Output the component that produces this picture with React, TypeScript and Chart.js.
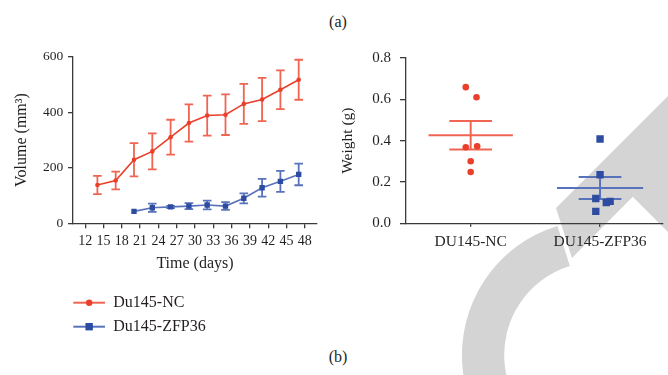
import React, { useEffect, useRef } from "react";
import { Chart, registerables } from "chart.js";

Chart.register(...registerables);

const FONT = "'Liberation Serif', 'Times New Roman', serif";
const TEXT = "#231f20";
const AXIS = "#3a3a3a";

// ---- (a) tumour volume ----
const tickDays = [12, 15, 18, 21, 24, 27, 30, 33, 36, 39, 42, 45, 48];
const ncDays = [14, 17, 20, 23, 26, 29, 32, 35, 38, 41, 44, 47];
const ncVolume = [138, 154, 229, 259, 310, 361, 388, 391, 430, 446, 481, 517];
const ncVolumeErr = [33, 32, 60, 65, 63, 67, 72, 73, 72, 78, 70, 72];
const zfpDays = [20, 23, 26, 29, 32, 35, 38, 41, 44, 47];
const zfpVolume = [43, 56, 59, 62, 66, 62, 90, 128, 151, 176];
const zfpVolumeErr = [0, 15, 4, 11, 16, 14, 18, 32, 38, 39];
const seriesNames = ["Du145-NC", "Du145-ZFP36"];

// ---- (b) tumour weight ----
const weightGroups = ["DU145-NC", "DU145-ZFP36"];
const ncWeight = [0.659, 0.61, 0.368, 0.373, 0.3, 0.248];
const ncJitter = [-0.038, 0.045, -0.038, 0.05, 0, 0];
const zfpWeight = [0.408, 0.235, 0.12, 0.1, 0.106, 0.058];
const zfpJitter = [0, 0, -0.033, 0.048, 0.078, -0.033];

const RED = "#ea3f2b";
const RED_LIGHT = "#ef6552";
const BLUE = "#2c4ba1";
const BLUE_LIGHT = "#5873bb";

const mean = (a: number[]) => a.reduce((s, v) => s + v, 0) / a.length;
const sem = (a: number[]) => {
  const m = mean(a);
  const v = a.reduce((s, x) => s + (x - m) * (x - m), 0) / (a.length - 1);
  return Math.sqrt(v) / Math.sqrt(a.length);
};

const errorBarPlugin = {
  id: "errorBars",
  beforeDatasetsDraw(chart: any) {
    const ctx = chart.ctx;
    const xs = chart.scales.x;
    const ys = chart.scales.y;
    chart.data.datasets.forEach((ds: any) => {
      if (!ds.errors) return;
      ctx.save();
      ctx.strokeStyle = ds.errorColor;
      ctx.lineWidth = 1.8;
      ds.data.forEach((p: any, j: number) => {
        const e = ds.errors[j];
        if (!e) return;
        const x = xs.getPixelForValue(p.x);
        const yt = ys.getPixelForValue(p.y + e);
        const yb = ys.getPixelForValue(p.y - e);
        const c = 4.3;
        ctx.beginPath();
        ctx.moveTo(x, yt);
        ctx.lineTo(x, yb);
        ctx.moveTo(x - c, yt);
        ctx.lineTo(x + c, yt);
        ctx.moveTo(x - c, yb);
        ctx.lineTo(x + c, yb);
        ctx.stroke();
      });
      ctx.restore();
    });
  },
};

const lineLegendPlugin = {
  id: "lineLegend",
  afterDraw(chart: any) {
    const ctx = chart.ctx;
    const x0 = 73.3;
    const len = 31.7;
    const tx = 113.3;
    const y0 = 262.7;
    const gap = 24;
    chart.data.datasets.forEach((ds: any, i: number) => {
      const y = y0 + i * gap;
      ctx.save();
      ctx.strokeStyle = ds.errorColor;
      ctx.lineWidth = 2;
      ctx.beginPath();
      ctx.moveTo(x0, y);
      ctx.lineTo(x0 + len, y);
      ctx.stroke();
      ctx.fillStyle = ds.pointBackgroundColor;
      const cx = x0 + len / 2;
      if (ds.pointStyle === "rect") {
        ctx.fillRect(cx - 3.7, y - 3.7, 7.4, 7.4);
      } else {
        ctx.beginPath();
        ctx.arc(cx, y, 3.2, 0, Math.PI * 2);
        ctx.fill();
      }
      ctx.fillStyle = TEXT;
      ctx.font = `16px ${FONT}`;
      ctx.textBaseline = "middle";
      ctx.textAlign = "left";
      ctx.fillText(ds.label, tx, y);
      ctx.restore();
    });
  },
};

function VolumeChart() {
  const ref = useRef<HTMLCanvasElement | null>(null);
  useEffect(() => {
    if (!ref.current) return;
    const chart = new Chart(ref.current, {
      type: "line",
      data: {
        datasets: [
          {
            label: seriesNames[0],
            data: ncDays.map((d, i) => ({ x: d, y: ncVolume[i] })),
            errors: ncVolumeErr,
            errorColor: RED_LIGHT,
            borderColor: RED,
            borderWidth: 1.6,
            pointStyle: "circle",
            pointRadius: 2.3,
            pointBackgroundColor: RED,
            pointBorderWidth: 0,
          } as any,
          {
            label: seriesNames[1],
            data: zfpDays.map((d, i) => ({ x: d, y: zfpVolume[i] })),
            errors: zfpVolumeErr,
            errorColor: BLUE_LIGHT,
            borderColor: BLUE_LIGHT,
            borderWidth: 1.6,
            pointStyle: "rect",
            pointRadius: 3.8,
            pointBackgroundColor: BLUE,
            pointBorderWidth: 0,
          } as any,
        ],
      },
      options: {
        animation: false,
        responsive: false,
        layout: { padding: { left: 0, top: 16.7, right: 13, bottom: 67.1 } },
        plugins: { legend: { display: false }, tooltip: { enabled: false } },
        scales: {
          x: {
            type: "linear",
            min: 10,
            max: 50,
            afterBuildTicks: (s: any) => {
              s.ticks = tickDays.map((v) => ({ value: v }));
            },
            afterFit: (s: any) => {
              s.height = 49.6;
            },
            ticks: {
              autoSkip: false,
              maxRotation: 0,
              padding: 5,
              color: TEXT,
              font: { family: FONT, size: 14 },
            },
            grid: { drawOnChartArea: false, drawTicks: true, tickLength: 5, color: AXIS, lineWidth: 1.3 },
            border: { color: AXIS, width: 1.3 },
            title: {
              display: true,
              text: "Time (days)",
              color: TEXT,
              font: { family: FONT, size: 16 },
              padding: { top: 0, bottom: 0 },
            },
          },
          y: {
            type: "linear",
            min: 0,
            max: 600,
            ticks: {
              stepSize: 200,
              padding: 4.7,
              color: TEXT,
              font: { family: FONT, size: 13.5 },
            },
            afterFit: (s: any) => {
              s.width = 73;
            },
            grid: { drawOnChartArea: false, drawTicks: true, tickLength: 5, color: AXIS, lineWidth: 1.3 },
            border: { color: AXIS, width: 1.3 },
            title: {
              display: true,
              text: "Volume (mm³)",
              color: TEXT,
              font: { family: FONT, size: 16 },
              padding: { top: 12.1, bottom: 0 },
            },
          },
        },
      } as any,
      plugins: [errorBarPlugin, lineLegendPlugin],
    });
    return () => chart.destroy();
  }, []);
  return <canvas ref={ref} width={330} height={300} style={{ width: 330, height: 300, display: "block" }} />;
}

function WeightChart() {
  const ref = useRef<HTMLCanvasElement | null>(null);
  useEffect(() => {
    if (!ref.current) return;
    const groups = [
      { vals: ncWeight, jit: ncJitter, color: RED, line: RED_LIGHT, style: "circle", r: 3.3, meanHalf: 0.326 },
      { vals: zfpWeight, jit: zfpJitter, color: BLUE, line: BLUE_LIGHT, style: "rect", r: 5.2, meanHalf: 0.333 },
    ];
    const capHalf = 0.165;
    const datasets: any[] = [];
    groups.forEach((g, gi) => {
      const cx = gi + 1;
      const m = mean(g.vals);
      const s = sem(g.vals);
      datasets.push({
        data: g.vals.map((v, i) => ({ x: cx + g.jit[i], y: v })),
        pointStyle: g.style,
        pointRadius: g.r,
        pointBackgroundColor: g.color,
        pointBorderWidth: 0,
        showLine: false,
        order: 0,
      });
      datasets.push({
        data: [
          { x: cx - g.meanHalf, y: m },
          { x: cx + g.meanHalf, y: m },
        ],
        showLine: true,
        borderColor: g.line,
        borderWidth: 2,
        pointRadius: 0,
        order: 1,
      });
      datasets.push({
        data: [
          { x: cx - capHalf, y: m + s },
          { x: cx + capHalf, y: m + s },
          { x: cx, y: null },
          { x: cx, y: m + s },
          { x: cx, y: m - s },
          { x: cx, y: null },
          { x: cx - capHalf, y: m - s },
          { x: cx + capHalf, y: m - s },
        ],
        showLine: true,
        spanGaps: false,
        borderColor: g.line,
        borderWidth: 2,
        pointRadius: 0,
        order: 1,
      });
    });
    const chart = new Chart(ref.current, {
      type: "scatter",
      data: { datasets },
      options: {
        animation: false,
        responsive: false,
        layout: { padding: { left: 0, top: 16.7, right: 0, bottom: 0 } },
        plugins: { legend: { display: false }, tooltip: { enabled: false } },
        scales: {
          x: {
            type: "linear",
            min: 0.5,
            max: 2.485,
            afterBuildTicks: (s: any) => {
              s.ticks = weightGroups.map((_, i) => ({ value: i + 1 }));
            },
            afterFit: (s: any) => {
              s.height = 46.7;
            },
            ticks: {
              autoSkip: false,
              maxRotation: 0,
              padding: 5.5,
              color: TEXT,
              font: { family: FONT, size: 15.5 },
              callback: (v: any) => weightGroups[Math.round(v) - 1] ?? "",
            },
            grid: { drawOnChartArea: false, drawTicks: true, tickLength: 3.5, color: AXIS, lineWidth: 1.3 },
            border: { color: AXIS, width: 1.3 },
          },
          y: {
            type: "linear",
            min: 0,
            max: 0.8,
            ticks: {
              stepSize: 0.2,
              padding: 9,
              color: TEXT,
              font: { family: FONT, size: 15 },
              callback: (v: any) => Number(v).toFixed(1),
            },
            afterFit: (s: any) => {
              s.width = 76;
            },
            grid: { drawOnChartArea: false, drawTicks: true, tickLength: 6, color: AXIS, lineWidth: 1.3 },
            border: { color: AXIS, width: 1.3 },
            title: {
              display: true,
              text: "Weight (g)",
              color: TEXT,
              font: { family: FONT, size: 15.5 },
              padding: { top: 8.4, bottom: 0 },
            },
          },
        },
      } as any,
    });
    return () => chart.destroy();
  }, []);
  return <canvas ref={ref} width={338} height={230} style={{ width: 338, height: 230, display: "block" }} />;
}

function Watermark() {
  // decorative publisher watermark in the background
  const cx = 597;
  const cy = 355;
  const R = 135;
  const r = 93;
  const a0 = (-107 * Math.PI) / 180;
  const a1 = (95 * Math.PI) / 180;
  const p = (rad: number, a: number) => `${(cx + rad * Math.cos(a)).toFixed(1)} ${(cy + rad * Math.sin(a)).toFixed(1)}`;
  const ring = `M ${p(R, a0)} A ${R} ${R} 0 0 0 ${p(R, a1)} L ${p(r, a1)} A ${r} ${r} 0 0 1 ${p(r, a0)} Z`;
  return (
    <svg width={668} height={375} style={{ position: "absolute", left: 0, top: 0 }}>
      <path d={ring} fill="#d4d4d4" />
      <polygon points="668,96 556,208 572,258 632.7,196.7 668,232" fill="#d4d4d4" />
    </svg>
  );
}

export default function App() {
  useEffect(() => {
    document.body.style.margin = "0";
  }, []);
  return (
    <div
      style={{
        position: "absolute",
        left: 0,
        top: 0,
        width: 668,
        height: 375,
        background: "#fff",
        overflow: "hidden",
        fontFamily: FONT,
        color: TEXT,
      }}
    >
      <Watermark />
      <div style={{ position: "absolute", left: 308, top: 11.7, width: 60, textAlign: "center", fontSize: 16, lineHeight: "20px" }}>
        (a)
      </div>
      <div style={{ position: "absolute", left: 0, top: 40 }}>
        <VolumeChart />
      </div>
      <div style={{ position: "absolute", left: 330, top: 40 }}>
        <WeightChart />
      </div>
      <div style={{ position: "absolute", left: 308, top: 346.7, width: 60, textAlign: "center", fontSize: 16, lineHeight: "20px" }}>
        (b)
      </div>
    </div>
  );
}
